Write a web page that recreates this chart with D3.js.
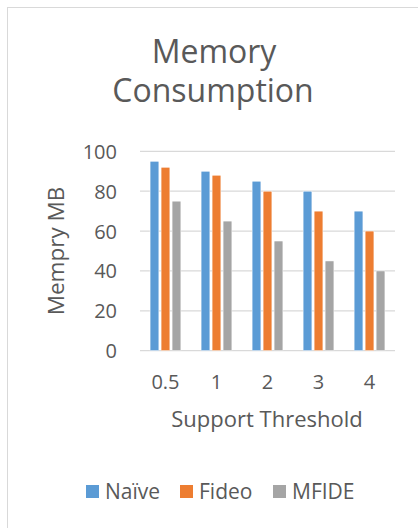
<!DOCTYPE html>
<html>
<head>
<meta charset="utf-8">
<script src="https://cdn.jsdelivr.net/npm/d3@7"></script>
<style>
  html, body { margin: 0; padding: 0; background: #fff; }
  svg { display: block; }
  text { font-family: "Open Sans", "Noto Sans", sans-serif; fill: #595959; }
</style>
</head>
<body>
<svg id="chart" width="418" height="528"></svg>
<script>
// Support thresholds on the x axis
const categories = ["0.5", "1", "2", "3", "4"];
// Series names, in legend order
const seriesNames = ["Naïve", "Fideo", "MFIDE"];
// Memory used (MB) per threshold, one array per series
const naiveValues = [95, 90, 85, 80, 70];
const fideoValues = [92, 88, 80, 70, 60];
const mfideValues = [75, 65, 55, 45, 40];
// Y axis ticks
const yTicks = [0, 20, 40, 60, 80, 100];

const colors = ["#5b9bd5", "#ed7d31", "#a5a5a5"];
const seriesValues = [naiveValues, fideoValues, mfideValues];

const rows = categories.map((c, i) => ({
  category: c,
  values: seriesNames.map((s, j) => ({ series: s, value: seriesValues[j][i], color: colors[j] }))
}));

const svg = d3.select("#chart");

// Chart frame
svg.append("rect")
  .attr("x", 7.5).attr("y", 7.5)
  .attr("width", 440).attr("height", 540)
  .attr("fill", "#fff")
  .attr("stroke", "#d9d9d9").attr("stroke-width", 1);

const plot = { left: 140, right: 395, top: 151.3, bottom: 350.7 };

const x0 = d3.scaleBand()
  .domain(categories)
  .range([plot.left, plot.right])
  .paddingInner(0.353)
  .paddingOuter(0.176);

const x1 = d3.scaleBand()
  .domain(seriesNames)
  .range([0, x0.bandwidth()])
  .paddingInner(0.2)
  .paddingOuter(0.1);

const y = d3.scaleLinear()
  .domain([0, 100])
  .range([plot.bottom, plot.top]);

// Gridlines
svg.append("g")
  .selectAll("line")
  .data(yTicks)
  .join("line")
  .attr("x1", plot.left).attr("x2", plot.right)
  .attr("y1", d => y(d)).attr("y2", d => y(d))
  .attr("stroke", "#d9d9d9")
  .attr("stroke-width", 1.3);

// Y axis labels
const yAxis = d3.axisLeft(y).tickValues(yTicks).tickSize(0).tickPadding(0);
svg.append("g")
  .attr("transform", `translate(117,0)`)
  .call(yAxis)
  .call(g => g.select(".domain").remove())
  .call(g => g.selectAll("text")
    .attr("font-size", 20)
    .attr("font-family", "'Open Sans', sans-serif")
    .attr("fill", "#595959")
    .attr("dy", "0.35em"));

// Bars
const groups = svg.append("g")
  .selectAll("g")
  .data(rows)
  .join("g")
  .attr("transform", d => `translate(${x0(d.category)},0)`);

groups.selectAll("rect")
  .data(d => d.values)
  .join("rect")
  .attr("x", d => x1(d.series))
  .attr("width", x1.bandwidth())
  .attr("y", d => y(d.value))
  .attr("height", d => y(0) - y(d.value))
  .attr("fill", d => d.color)
  .attr("stroke", "#fff")
  .attr("stroke-width", 0.5);

// X axis labels
const xAxis = d3.axisBottom(x0).tickSize(0).tickPadding(0);
svg.append("g")
  .attr("transform", `translate(0,${plot.bottom})`)
  .call(xAxis)
  .call(g => g.select(".domain").remove())
  .call(g => g.selectAll("text")
    .attr("font-size", 20)
    .attr("font-family", "'Open Sans', sans-serif")
    .attr("fill", "#595959")
    .attr("y", 38)
    .attr("dy", 0));

// Title, two lines
svg.append("text")
  .attr("text-anchor", "middle")
  .attr("font-size", 32)
  .attr("x", 214).attr("y", 63)
  .text("Memory");
svg.append("text")
  .attr("text-anchor", "middle")
  .attr("font-size", 32)
  .attr("x", 213).attr("y", 101.5)
  .text("Consumption");

// Axis titles
svg.append("text")
  .attr("text-anchor", "middle")
  .attr("font-size", 22.5)
  .attr("transform", "translate(64,251) rotate(-90)")
  .text("Mempry MB");

svg.append("text")
  .attr("text-anchor", "middle")
  .attr("font-size", 22)
  .attr("x", 267).attr("y", 427)
  .text("Support Threshold");

// Legend
const legendX = [86, 180, 273];
const legend = svg.append("g")
  .selectAll("g")
  .data(seriesNames)
  .join("g")
  .attr("transform", (d, i) => `translate(${legendX[i]},485)`);

legend.append("rect")
  .attr("width", 13).attr("height", 13)
  .attr("fill", (d, i) => colors[i]);

legend.append("text")
  .attr("x", 19).attr("y", 13.5)
  .attr("font-size", 21)
  .text(d => d);
</script>
</body>
</html>
